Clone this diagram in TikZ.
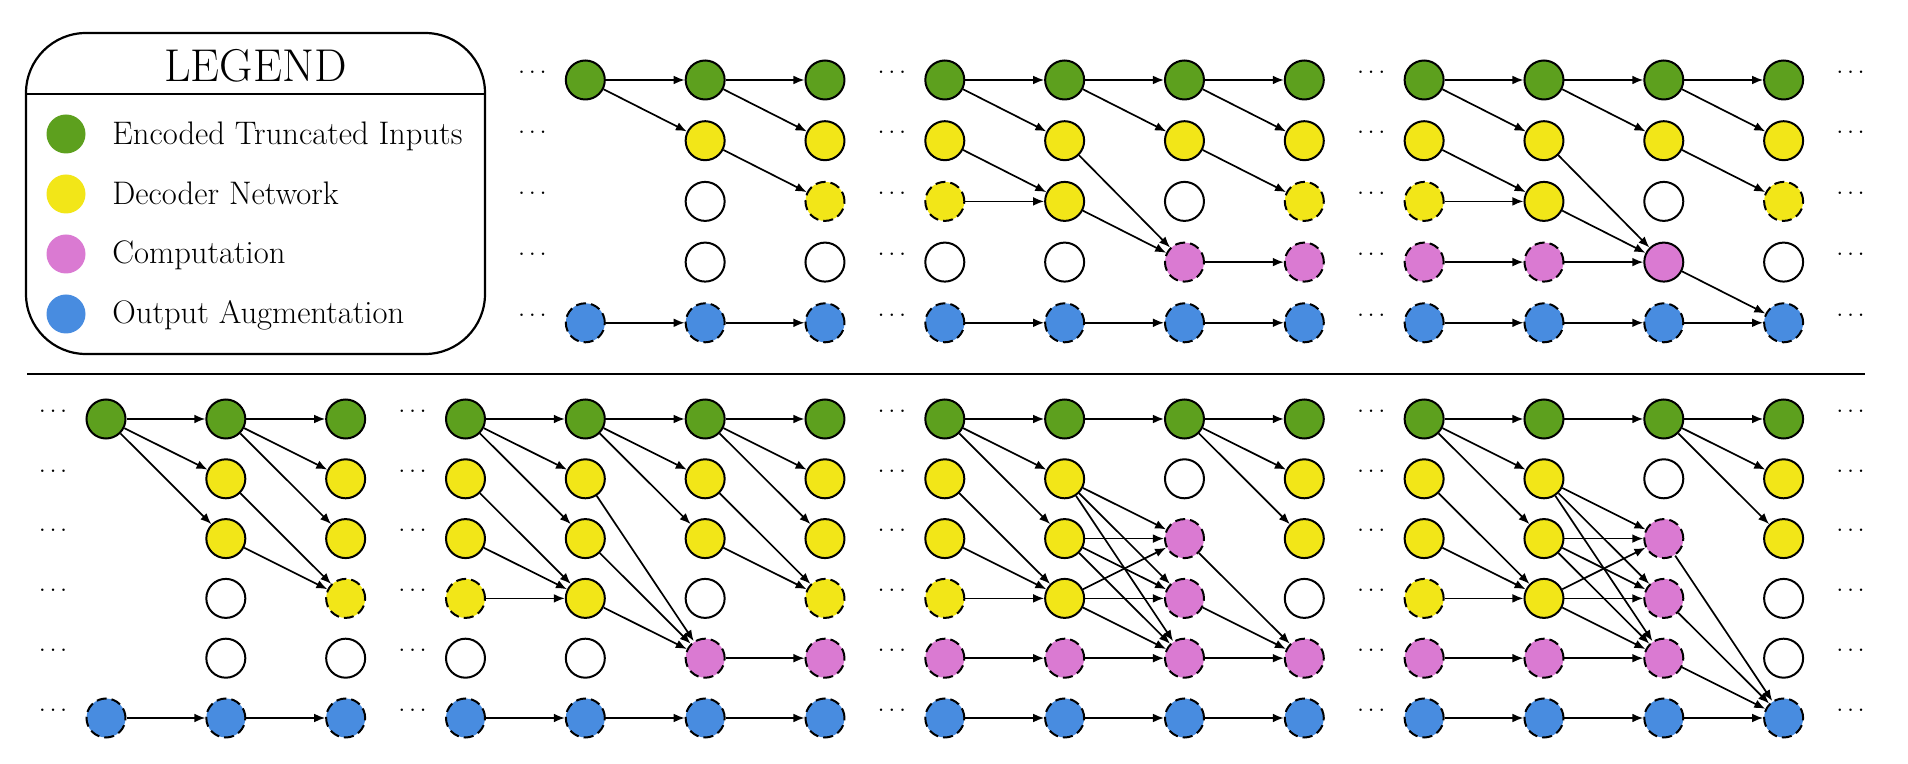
\documentclass[tikz,border=0pt]{standalone}
\usepackage{fontspec}
\usetikzlibrary{arrows.meta}
\definecolor{gcol}{RGB}{93,160,30}
\definecolor{ycol}{RGB}{242,230,24}
\definecolor{pcol}{RGB}{218,122,210}
\definecolor{bcol}{RGB}{72,140,224}
\newcommand{\TN}[3]{\node[#3] (t#1-#2) at ({106+119.83*#1},{80+60.7*(#2-1)}) {};}
\newcommand{\BN}[3]{\node[#3] (b#1-#2) at ({106+119.83*#1},{419+59.8*(#2-1)}) {};}
\newcommand{\TCol}[6]{\TN{#1}{1}{#2}\TN{#1}{2}{#3}\TN{#1}{3}{#4}\TN{#1}{4}{#5}\TN{#1}{5}{#6}}
\newcommand{\BCol}[7]{\BN{#1}{1}{#2}\BN{#1}{2}{#3}\BN{#1}{3}{#4}\BN{#1}{4}{#5}\BN{#1}{5}{#6}\BN{#1}{6}{#7}}
\tikzset{
  nd/.style={circle, minimum size=19.5pt, inner sep=0pt, line width=1pt, draw=black},
  dsh/.style={dash pattern=on 5pt off 2.5pt},
  gn/.style={nd, fill=gcol},
  ys/.style={nd, fill=ycol},
  yd/.style={nd, fill=ycol, dsh},
  pd/.style={nd, fill=pcol, dsh},
  ps/.style={nd, fill=pcol},
  bd/.style={nd, fill=bcol, dsh},
  wn/.style={nd, fill=white},
  arr/.style={-{Latex[length=5.5pt,width=4.4pt]}, line width=0.85pt},
  dotsn/.style={anchor=base, inner sep=0pt, font=\fontsize{13}{15}\selectfont},
  lgc/.style={circle, minimum size=19.5pt, inner sep=0pt},
  lgt/.style={anchor=base west, inner sep=0pt, font=\fontsize{16.3}{19}\selectfont}
}
\begin{document}
\begin{tikzpicture}[x=0.5pt,y=-0.5pt]
\useasboundingbox (0,0) rectangle (1908,764);
% legend
\draw[line width=1.1pt, rounded corners=30pt] (26,33) rectangle (485,354);
\coordinate (lgL) at (26,94);
\coordinate (lgR) at (485,94);
\draw[line width=1.1pt] (lgL) -- (lgR);
\node[anchor=base, inner sep=0pt, font=\fontsize{23}{27}\selectfont] (lgtitle) at (255.5,82) {LEGEND};
\node[lgc, fill=gcol] (lg1) at (66,134) {};
\node[lgc, fill=ycol] (lg2) at (66,194) {};
\node[lgc, fill=pcol] (lg3) at (66,254) {};
\node[lgc, fill=bcol] (lg4) at (66,314) {};
\node[lgt] (lt1) at (112,145) {Encoded Truncated Inputs};
\node[lgt] (lt2) at (112,204.5) {Decoder Network};
\node[lgt] (lt3) at (112,264) {Computation};
\node[lgt] (lt4) at (112,324) {Output Augmentation};
% separator
\coordinate (sepL) at (27,374);
\coordinate (sepR) at (1865,374);
\draw[line width=1.2pt] (sepL) -- (sepR);
% dots
\foreach \k [count=\i] in {3.5,6.5,10.5,14.5}
  \foreach \r in {1,...,5}
    \node[dotsn] (td\i-\r) at ({113+119.83*\k},{80+60.7*(\r-1)-6.7}) {.\kern1.8pt.\kern1.8pt.};
\foreach \k [count=\i] in {-0.5,2.5,6.5,10.5,14.5}
  \foreach \r in {1,...,6}
    \node[dotsn] (bd\i-\r) at ({113+119.83*\k},{419+59.8*(\r-1)-6.7}) {.\kern1.8pt.\kern1.8pt.};
% top nodes
\TN{4}{1}{gn} \TN{4}{5}{bd}
\TCol{5}{gn}{ys}{wn}{wn}{bd}
\TCol{6}{gn}{ys}{yd}{wn}{bd}
\TCol{7}{gn}{ys}{yd}{wn}{bd}
\TCol{8}{gn}{ys}{ys}{wn}{bd}
\TCol{9}{gn}{ys}{wn}{pd}{bd}
\TCol{10}{gn}{ys}{yd}{pd}{bd}
\TCol{11}{gn}{ys}{yd}{pd}{bd}
\TCol{12}{gn}{ys}{ys}{pd}{bd}
\TCol{13}{gn}{ys}{wn}{ps}{bd}
\TCol{14}{gn}{ys}{yd}{wn}{bd}
% bottom nodes
\BN{0}{1}{gn} \BN{0}{6}{bd}
\BCol{1}{gn}{ys}{ys}{wn}{wn}{bd}
\BCol{2}{gn}{ys}{ys}{yd}{wn}{bd}
\BCol{3}{gn}{ys}{ys}{yd}{wn}{bd}
\BCol{4}{gn}{ys}{ys}{ys}{wn}{bd}
\BCol{5}{gn}{ys}{ys}{wn}{pd}{bd}
\BCol{6}{gn}{ys}{ys}{yd}{pd}{bd}
\BCol{7}{gn}{ys}{ys}{yd}{pd}{bd}
\BCol{8}{gn}{ys}{ys}{ys}{pd}{bd}
\BCol{9}{gn}{wn}{pd}{pd}{pd}{bd}
\BCol{10}{gn}{ys}{ys}{wn}{pd}{bd}
\BCol{11}{gn}{ys}{ys}{yd}{pd}{bd}
\BCol{12}{gn}{ys}{ys}{ys}{pd}{bd}
\BCol{13}{gn}{wn}{pd}{pd}{pd}{bd}
\BCol{14}{gn}{ys}{ys}{wn}{wn}{bd}
% top arrows
\foreach \a/\b in {t4-1/t5-1, t4-1/t5-2, t5-1/t6-1, t5-1/t6-2, t5-2/t6-3, t4-5/t5-5, t5-5/t6-5,
  t7-1/t8-1, t7-1/t8-2, t7-2/t8-3, t7-3/t8-3, t8-1/t9-1, t8-1/t9-2, t8-2/t9-4, t8-3/t9-4,
  t9-1/t10-1, t9-1/t10-2, t9-2/t10-3, t9-4/t10-4, t7-5/t8-5, t8-5/t9-5, t9-5/t10-5,
  t11-1/t12-1, t11-1/t12-2, t11-2/t12-3, t11-3/t12-3, t11-4/t12-4, t12-1/t13-1, t12-1/t13-2,
  t12-2/t13-4, t12-3/t13-4, t12-4/t13-4, t13-1/t14-1, t13-1/t14-2, t13-2/t14-3, t13-4/t14-5,
  t11-5/t12-5, t12-5/t13-5, t13-5/t14-5}
  \draw[arr] (\a) -- (\b);
% bottom arrows
\foreach \a/\b in {b0-1/b1-1, b0-1/b1-2, b0-1/b1-3, b1-1/b2-1, b1-1/b2-2, b1-1/b2-3, b1-2/b2-4, b1-3/b2-4,
  b0-6/b1-6, b1-6/b2-6,
  b3-1/b4-1, b3-1/b4-2, b3-1/b4-3, b3-2/b4-4, b3-3/b4-4, b3-4/b4-4,
  b4-1/b5-1, b4-1/b5-2, b4-1/b5-3, b4-2/b5-5, b4-3/b5-5, b4-4/b5-5,
  b5-1/b6-1, b5-1/b6-2, b5-1/b6-3, b5-2/b6-4, b5-3/b6-4, b5-5/b6-5,
  b3-6/b4-6, b4-6/b5-6, b5-6/b6-6,
  b7-1/b8-1, b7-1/b8-2, b7-1/b8-3, b7-2/b8-4, b7-3/b8-4, b7-4/b8-4, b7-5/b8-5,
  b8-1/b9-1, b8-2/b9-3, b8-2/b9-4, b8-2/b9-5, b8-3/b9-3, b8-3/b9-4, b8-3/b9-5,
  b8-4/b9-3, b8-4/b9-4, b8-4/b9-5, b8-5/b9-5,
  b9-1/b10-1, b9-1/b10-2, b9-1/b10-3, b9-3/b10-5, b9-4/b10-5, b9-5/b10-5,
  b7-6/b8-6, b8-6/b9-6, b9-6/b10-6,
  b11-1/b12-1, b11-1/b12-2, b11-1/b12-3, b11-2/b12-4, b11-3/b12-4, b11-4/b12-4, b11-5/b12-5,
  b12-1/b13-1, b12-2/b13-3, b12-2/b13-4, b12-2/b13-5, b12-3/b13-3, b12-3/b13-4, b12-3/b13-5,
  b12-4/b13-3, b12-4/b13-4, b12-4/b13-5, b12-5/b13-5,
  b13-1/b14-1, b13-1/b14-2, b13-1/b14-3, b13-3/b14-6, b13-4/b14-6, b13-5/b14-6, b13-6/b14-6,
  b11-6/b12-6, b12-6/b13-6}
  \draw[arr] (\a) -- (\b);
\end{tikzpicture}
\end{document}
